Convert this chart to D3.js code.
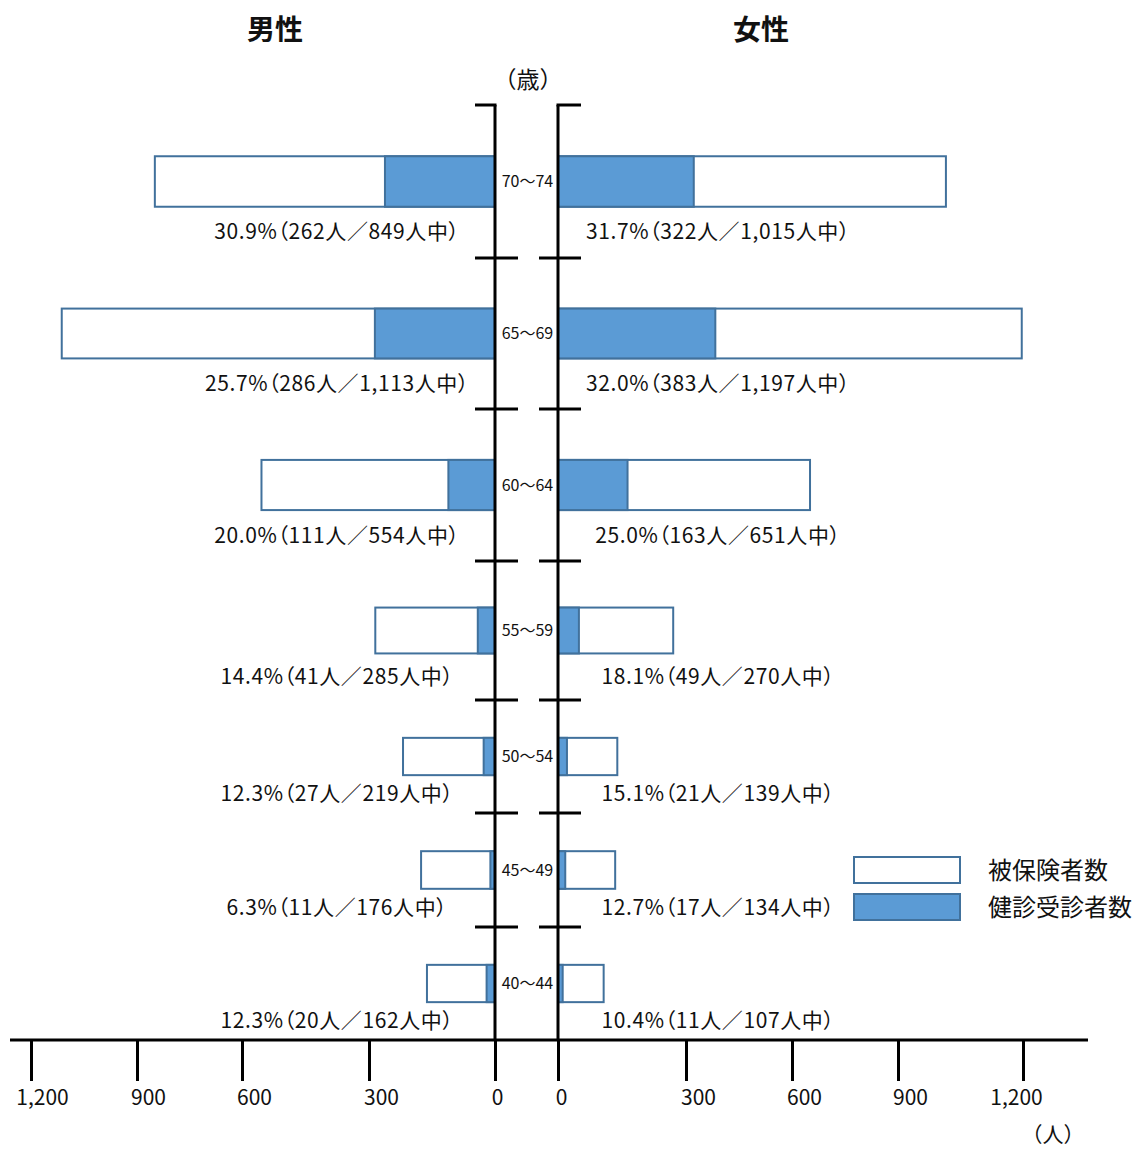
<!DOCTYPE html>
<html lang="ja">
<head>
<meta charset="utf-8">
<script src="https://cdn.jsdelivr.net/npm/d3@7/dist/d3.min.js"></script>
<style>
  html, body { margin: 0; padding: 0; background: #fff; }
  svg { display: block; font-family: "Noto Sans CJK JP", "Noto Sans", sans-serif; }
  .rate { font-feature-settings: "palt"; }
</style>
</head>
<body>
<svg id="chart" width="1135" height="1149"></svg>
<script>
// Age groups, top to bottom
const ages = ["70～74", "65～69", "60～64", "55～59", "50～54", "45～49", "40～44"];

// Men: insured persons, examined persons, examination rate (%)
const maleInsured  = [849, 1113, 554, 285, 219, 176, 162];
const maleExamined = [262, 286, 111, 41, 27, 11, 20];
const maleRate     = [30.9, 25.7, 20.0, 14.4, 12.3, 6.3, 12.3];

// Women: insured persons, examined persons, examination rate (%)
const femaleInsured  = [1015, 1197, 651, 270, 139, 134, 107];
const femaleExamined = [322, 383, 163, 49, 21, 17, 11];
const femaleRate     = [31.7, 32.0, 25.0, 18.1, 15.1, 12.7, 10.4];

// Axis tick values (persons)
const tickValues = [0, 300, 600, 900, 1200];

const legendLabels = ["被保険者数", "健診受診者数"];

const svg = d3.select("#chart");
const fillBlue = "#5B9BD5";
const strokeBlue = "#41719C";
const fmt = d3.format(",");

// Horizontal scales: left side grows leftward, right side rightward
const xL = d3.scaleLinear().domain(tickValues).range([495, 369, 242, 137, 31]);
const xR = d3.scaleLinear().domain(tickValues).range([558, 686, 792, 898, 1023]);

// Vertical band edges for the seven age groups
const bandEdge = d3.scaleLinear().domain(d3.range(ages.length + 1))
  .range([105, 258, 409, 561, 700, 813, 927, 1040]);

const rows = ages.map((age, i) => {
  const top = bandEdge(i), bottom = bandEdge(i + 1);
  const h = bottom - top;
  return {
    age, i, h, cy: (top + bottom) / 2,
    mIns: maleInsured[i], mEx: maleExamined[i], mRate: maleRate[i],
    fIns: femaleInsured[i], fEx: femaleExamined[i], fRate: femaleRate[i]
  };
});

const label = (rate, ex, ins) => `${rate.toFixed(1)}%（${ex}人／${fmt(ins)}人中）`;

// Bars
const g = svg.append("g");
rows.forEach(r => {
  const bh = r.h * 0.33;
  const y0 = r.cy - bh / 2;
  // Men
  g.append("rect").attr("x", xL(r.mIns)).attr("y", y0)
    .attr("width", xL(0) - xL(r.mIns)).attr("height", bh)
    .attr("fill", "#fff").attr("stroke", strokeBlue).attr("stroke-width", 2);
  g.append("rect").attr("x", xL(r.mEx)).attr("y", y0)
    .attr("width", xL(0) - xL(r.mEx)).attr("height", bh)
    .attr("fill", fillBlue).attr("stroke", strokeBlue).attr("stroke-width", 2);
  // Women
  g.append("rect").attr("x", xR(0)).attr("y", y0)
    .attr("width", xR(r.fIns) - xR(0)).attr("height", bh)
    .attr("fill", "#fff").attr("stroke", strokeBlue).attr("stroke-width", 2);
  g.append("rect").attr("x", xR(0)).attr("y", y0)
    .attr("width", xR(r.fEx) - xR(0)).attr("height", bh)
    .attr("fill", fillBlue).attr("stroke", strokeBlue).attr("stroke-width", 2);

  // Rate labels under the bars
  const ly = r.cy + r.h * 0.33;
  g.append("text").attr("class", "rate").attr("x", 337).attr("y", ly).attr("dy", "0.35em")
    .attr("text-anchor", "middle").attr("font-size", 21).attr("letter-spacing", 0.6)
    .attr("fill", "#111").text(label(r.mRate, r.mEx, r.mIns));
  g.append("text").attr("class", "rate").attr("x", 718).attr("y", ly).attr("dy", "0.35em")
    .attr("text-anchor", "middle").attr("font-size", 21).attr("letter-spacing", 0.6)
    .attr("fill", "#111").text(label(r.fRate, r.fEx, r.fIns));

  // Age label between the two axes
  g.append("text").attr("x", (xL(0) + xR(0)) / 2 + 1).attr("y", r.cy).attr("dy", "0.35em")
    .attr("text-anchor", "middle").attr("font-size", 16).attr("fill", "#111")
    .text(r.age);
});

// Vertical axes with group separators
const axisG = svg.append("g").attr("stroke", "#000").attr("stroke-width", 3);
[xL(0), xR(0)].forEach(x => {
  axisG.append("line").attr("x1", x).attr("x2", x)
    .attr("y1", bandEdge(0)).attr("y2", bandEdge(ages.length));
});
// top caps
axisG.append("line").attr("x1", xL(0) - 20).attr("x2", xL(0) + 1.5)
  .attr("y1", bandEdge(0)).attr("y2", bandEdge(0));
axisG.append("line").attr("x1", xR(0) - 1.5).attr("x2", xR(0) + 23)
  .attr("y1", bandEdge(0)).attr("y2", bandEdge(0));
// separators between age groups
d3.range(1, ages.length).forEach(i => {
  const y = bandEdge(i);
  axisG.append("line").attr("x1", xL(0) - 20).attr("x2", xL(0) + 23).attr("y1", y).attr("y2", y);
  axisG.append("line").attr("x1", xR(0) - 19).attr("x2", xR(0) + 23).attr("y1", y).attr("y2", y);
});

// Bottom axis
const baseY = bandEdge(ages.length);
svg.append("line").attr("x1", 10).attr("x2", 1088).attr("y1", baseY).attr("y2", baseY)
  .attr("stroke", "#000").attr("stroke-width", 3);

function drawAxis(scale, shifts) {
  const ax = svg.append("g").attr("transform", `translate(0,${baseY})`)
    .call(d3.axisBottom(scale).tickValues(tickValues).tickSize(41).tickSizeOuter(0)
      .tickPadding(9).tickFormat(fmt));
  ax.select(".domain").remove();
  ax.selectAll(".tick line").attr("stroke", "#000").attr("stroke-width", 3);
  ax.selectAll(".tick text").attr("font-size", 21).attr("fill", "#111")
    .attr("font-family", "\"Noto Sans CJK JP\", sans-serif")
    .attr("dx", d => shifts[d]);
}
drawAxis(xL, {0: 2, 300: 12, 600: 12, 900: 11, 1200: 11});
drawAxis(xR, {0: 3, 300: 12, 600: 12, 900: 12, 1200: -7});

// Unit labels
svg.append("text").attr("x", 1053).attr("y", 1135).attr("dy", "0.35em")
  .attr("text-anchor", "middle").attr("font-size", 21).attr("fill", "#111").text("（人）");
svg.append("text").attr("x", 528).attr("y", 80).attr("dy", "0.35em")
  .attr("text-anchor", "middle").attr("font-size", 23).attr("fill", "#111").text("（歳）");

// Titles
svg.append("text").attr("x", 275).attr("y", 30).attr("dy", "0.35em")
  .attr("text-anchor", "middle").attr("font-size", 28).attr("font-weight", "bold")
  .attr("fill", "#111").text("男性");
svg.append("text").attr("x", 761).attr("y", 30).attr("dy", "0.35em")
  .attr("text-anchor", "middle").attr("font-size", 28).attr("font-weight", "bold")
  .attr("fill", "#111").text("女性");

// Legend
const legend = svg.append("g").attr("transform", "translate(854,857)");
legendLabels.forEach((t, i) => {
  legend.append("rect").attr("x", 0).attr("y", i * 37).attr("width", 106).attr("height", 26)
    .attr("fill", i === 0 ? "#fff" : fillBlue).attr("stroke", strokeBlue).attr("stroke-width", 2);
  legend.append("text").attr("x", 134).attr("y", i * 37 + 14).attr("dy", "0.35em")
    .attr("font-size", 24).attr("fill", "#111").text(t);
});
</script>
</body>
</html>
